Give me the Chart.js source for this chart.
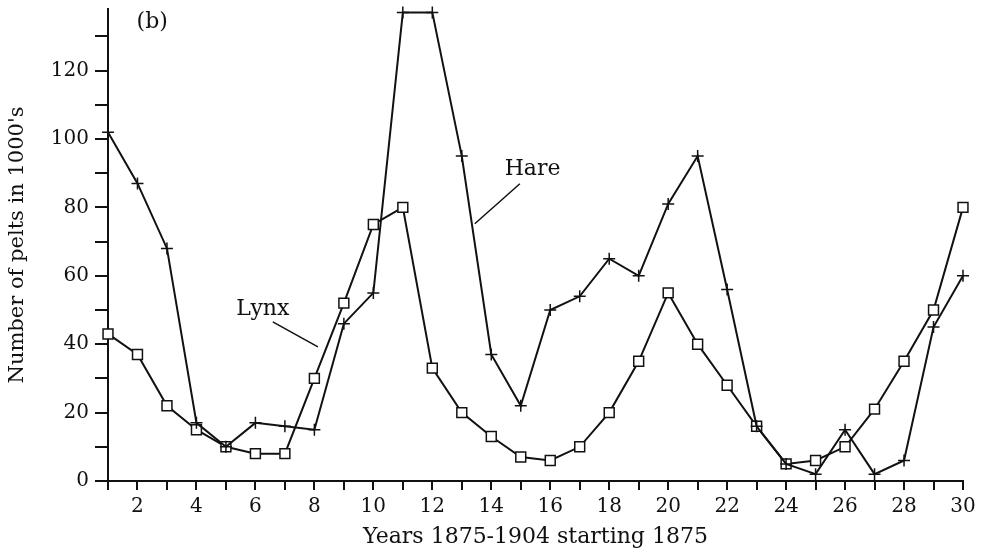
<!DOCTYPE html>
<html>
<head>
<meta charset="utf-8">
<script src="https://cdn.jsdelivr.net/npm/chart.js@4/dist/chart.umd.min.js"></script>
<style>
  html, body { margin: 0; padding: 0; background: #fff; }
</style>
</head>
<body>
<canvas id="chart" width="983" height="556"></canvas>
<script>
// Data (pelts in 1000's, years 1..30 from 1875)
const years = [1, 2, 3, 4, 5, 6, 7, 8, 9, 10, 11, 12, 13, 14, 15, 16, 17, 18, 19, 20, 21, 22, 23, 24, 25, 26, 27, 28, 29, 30];
const hare = [102, 87, 68, 17, 10, 17, 16, 15, 46, 55, 137, 137, 95, 37, 22, 50, 54, 65, 60, 81, 95, 56, 16, 5, 2, 15, 2, 6, 45, 60];
const lynx = [43, 37, 22, 15, 10, 8, 8, 30, 52, 75, 80, 33, 20, 13, 7, 6, 10, 20, 35, 55, 40, 28, 16, 5, 6, 10, 21, 35, 50, 80];

const xLabelTicks = [2, 4, 6, 8, 10, 12, 14, 16, 18, 20, 22, 24, 26, 28, 30];
const yLabelTicks = [0, 20, 40, 60, 80, 100, 120];

// Text labels in the plot, placed in data units
const notes = [
    { text: '(b)', x: 2.5, y: 134 },
    { text: 'Hare', x: 15.4, y: 91 },
    { text: 'Lynx', x: 6.25, y: 50.3 }
];
const leaders = [
    { from: [14.97, 86.9], to: [13.44, 75.2] },
    { from: [6.59, 46.5], to: [8.12, 39.2] }
];

const ink = '#111';
const serif = 'DejaVu Serif';

const toPoints = (values) => years.map((yr, i) => ({ x: yr, y: values[i] }));

// draws the in-plot labels and their leader lines
const notesPlugin = {
    id: 'notes',
    afterDatasetsDraw(chart) {
        const { ctx, scales } = chart;
        const px = (v) => scales.x.getPixelForValue(v);
        const py = (v) => scales.y.getPixelForValue(v);
        ctx.save();
        ctx.fillStyle = ink;
        ctx.strokeStyle = ink;
        ctx.lineWidth = 1.5;
        ctx.font = '22px "' + serif + '"';
        ctx.textAlign = 'center';
        ctx.textBaseline = 'middle';
        notes.forEach((n) => ctx.fillText(n.text, px(n.x), py(n.y)));
        leaders.forEach((l) => {
            ctx.beginPath();
            ctx.moveTo(px(l.from[0]), py(l.from[1]));
            ctx.lineTo(px(l.to[0]), py(l.to[1]));
            ctx.stroke();
        });
        ctx.restore();
    }
};

const ctx = document.getElementById('chart').getContext('2d');

new Chart(ctx, {
    type: 'line',
    data: {
        datasets: [
            {
                label: 'Hare',
                data: toPoints(hare),
                borderColor: ink,
                borderWidth: 2,
                pointStyle: 'cross',
                pointRadius: 6,
                pointBorderColor: ink,
                pointBorderWidth: 1.5,
                tension: 0,
                clip: false
            },
            {
                label: 'Lynx',
                data: toPoints(lynx),
                borderColor: ink,
                borderWidth: 2,
                pointStyle: 'rect',
                pointRadius: 7,
                pointBackgroundColor: '#fff',
                pointBorderColor: ink,
                pointBorderWidth: 1.5,
                tension: 0,
                clip: false
            }
        ]
    },
    options: {
        responsive: false,
        animation: false,
        events: [],
        layout: { padding: { top: 9, right: 20, left: 0, bottom: 0 } },
        plugins: {
            legend: { display: false },
            tooltip: { enabled: false }
        },
        scales: {
            x: {
                type: 'linear',
                min: 1,
                max: 30,
                border: { color: ink, width: 2 },
                grid: { drawOnChartArea: false, tickLength: 9, color: ink, lineWidth: 2 },
                ticks: {
                    stepSize: 1,
                    autoSkip: false,
                    maxRotation: 0,
                    padding: 5,
                    color: ink,
                    font: { family: serif, size: 20 },
                    callback: (v) => (xLabelTicks.includes(v) ? String(v) : '')
                },
                title: {
                    display: true,
                    text: 'Years 1875-1904 starting 1875',
                    color: ink,
                    font: { family: serif, size: 22 },
                    padding: { top: 0, bottom: 6 }
                },
                afterFit: (scale) => { scale.height = 75; }
            },
            y: {
                min: 0,
                max: 138,
                border: { color: ink, width: 2 },
                grid: { drawOnChartArea: false, tickLength: 13, color: ink, lineWidth: 2 },
                afterBuildTicks: (scale) => {
                    scale.ticks = scale.ticks.filter((t) => t.value % 10 === 0);
                },
                ticks: {
                    stepSize: 10,
                    autoSkip: false,
                    padding: 6,
                    color: ink,
                    font: { family: serif, size: 20 },
                    callback: (v) => (yLabelTicks.includes(v) ? String(v) : '')
                },
                title: {
                    display: true,
                    text: "Number of pelts in 1000's",
                    color: ink,
                    font: { family: serif, size: 21 },
                    padding: { top: 5, bottom: 0 }
                },
                afterFit: (scale) => {
                    scale.width = 108;
                    scale.paddingTop = 0;
                }
            }
        }
    },
    plugins: [notesPlugin]
});
</script>
</body>
</html>
